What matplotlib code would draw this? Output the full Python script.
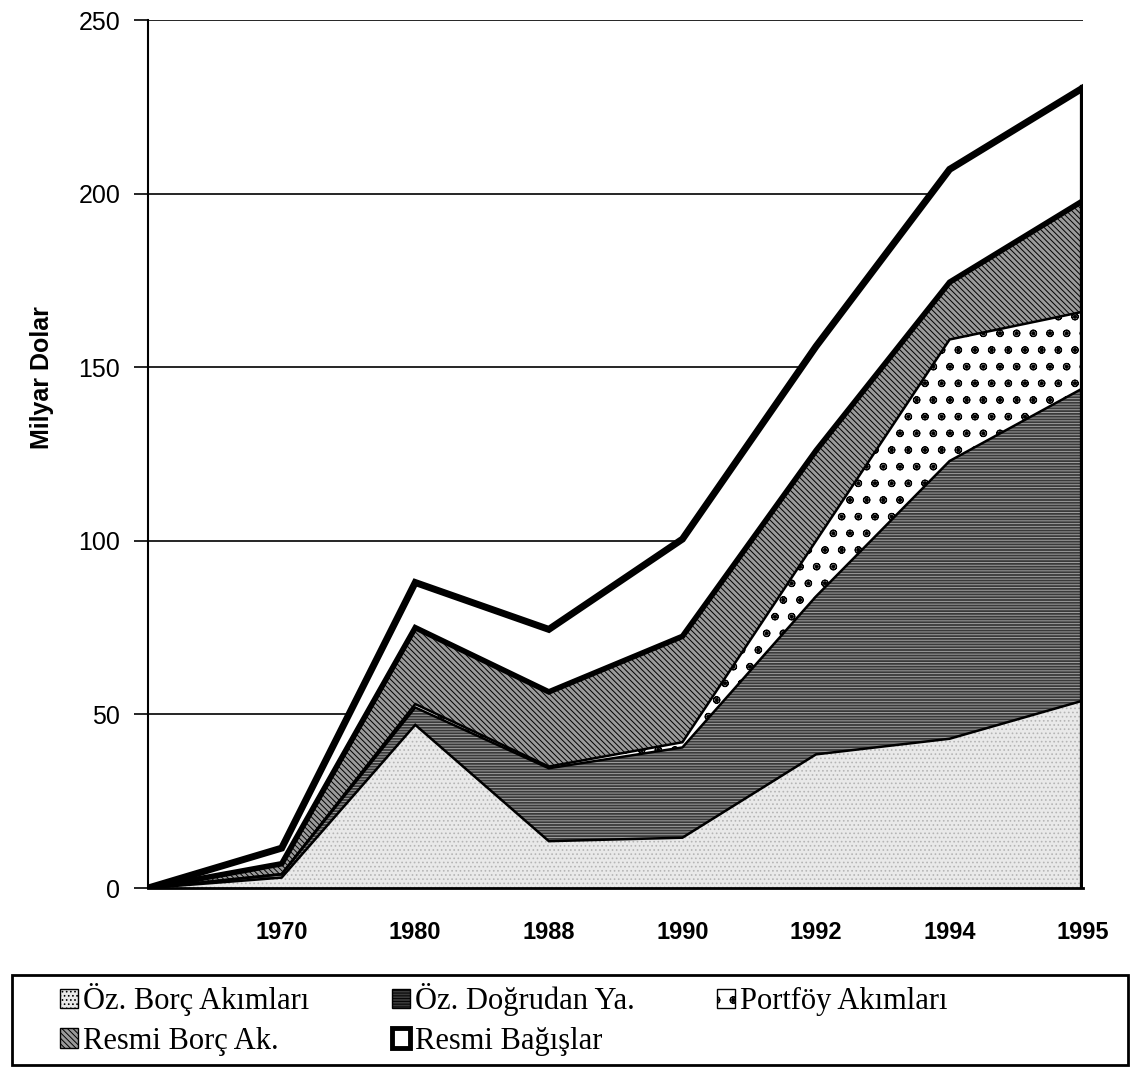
import matplotlib.pyplot as plt
from matplotlib.patches import Patch, Rectangle
import numpy as np

plt.rcParams['hatch.linewidth'] = 0.7

# data (milyar dolar), first point is the blank origin
years = ["", "1970", "1980", "1988", "1990", "1992", "1994", "1995"]
oz_borc = [0, 3, 47, 13.5, 14.5, 38.5, 43, 54]
oz_dogrudan = [0, 1, 5, 21, 26, 45.5, 80, 90]
portfoy = [0, 0, 1, 0.5, 1.5, 16, 35, 22]
resmi_borc = [0, 3, 22, 21.5, 30.5, 26, 16.5, 32]
resmi_bagis = [0, 4.5, 13, 18, 28, 30, 32.5, 32.5]

labels = ["Öz. Borç Akımları", "Öz. Doğrudan Ya.", "Portföy Akımları",
          "Resmi Borç Ak.", "Resmi Bağışlar"]
series = [oz_borc, oz_dogrudan, portfoy, resmi_borc, resmi_bagis]
# face, hatch colour, hatch, top line width
styles = [("#e9e9e9", "#b5b5b5", "....", 1.8),
          ("#3a3a3a", "#a0a0a0", "------", 1.8),
          ("white", "black", "o.", 1.8),
          ("#9a9a9a", "black", "\\\\\\\\\\\\", 4),
          ("white", "white", None, 5)]

x = np.arange(len(years))

fig = plt.figure(figsize=(11.39, 10.72), dpi=100)
ax = fig.add_axes([0.13, 0.1716, 0.821, 0.8097])

bottom = np.zeros(len(x))
for vals, (fc, hc, h, lw) in zip(series, styles):
    top = bottom + np.array(vals)
    ax.fill_between(x, bottom, top, facecolor=fc, edgecolor=hc, hatch=h,
                    linewidth=0, zorder=2)
    ax.plot(x, top, color="black", lw=lw, zorder=4, solid_joinstyle="miter")
    bottom = top

# right edge of the stack
ax.plot([x[-1], x[-1]], [0, bottom[-1]], color="black", lw=4.5, zorder=5)

ax.set_xlim(0, 7)
ax.set_ylim(0, 250)
ax.set_yticks([0, 50, 100, 150, 200, 250])
ax.yaxis.grid(True, color="black", lw=1.2, zorder=1)
ax.set_axisbelow(True)
for s in ["top", "right"]:
    ax.spines[s].set_visible(False)
ax.spines["left"].set_linewidth(1.5)
ax.spines["bottom"].set_linewidth(2)

ax.set_xticks(x)
ax.set_xticklabels(years, fontsize=17, fontweight="bold", family="Liberation Sans")
ax.tick_params(axis="x", length=0, pad=24)
ax.tick_params(axis="y", length=10, width=1.2, labelsize=18, pad=10)
for t in ax.get_yticklabels():
    t.set_family("Liberation Sans")

fig.text(42 / 1139, 1 - 378 / 1072, "Milyar Dolar", rotation=90,
         fontsize=18, fontweight="bold", family="Liberation Sans",
         ha="center", va="center")

# legend box
fig.patches.append(Rectangle((12 / 1139, 1 - 1065 / 1072), 1116 / 1139, 90 / 1072,
                             transform=fig.transFigure, facecolor="white",
                             edgecolor="black", linewidth=2, zorder=0))

handles = [Patch(facecolor=fc, edgecolor="black", hatch=h, linewidth=1)
           for fc, hc, h, lw in styles]
handles[4] = Patch(facecolor="white", edgecolor="black", linewidth=3.5)
order = [0, 3, 1, 4, 2]
leg = fig.legend([handles[i] for i in order], [labels[i] for i in order],
                 ncol=3, loc="upper left",
                 bbox_to_anchor=(60 / 1139, 1 - 983 / 1072),
                 prop={"family": "Liberation Serif", "size": 22},
                 handlelength=0.6, handleheight=0.6, handletextpad=0.15,
                 frameon=False, borderpad=0, borderaxespad=0,
                 labelspacing=0.35, columnspacing=2.7)

fig.savefig("out.png", dpi=100)
